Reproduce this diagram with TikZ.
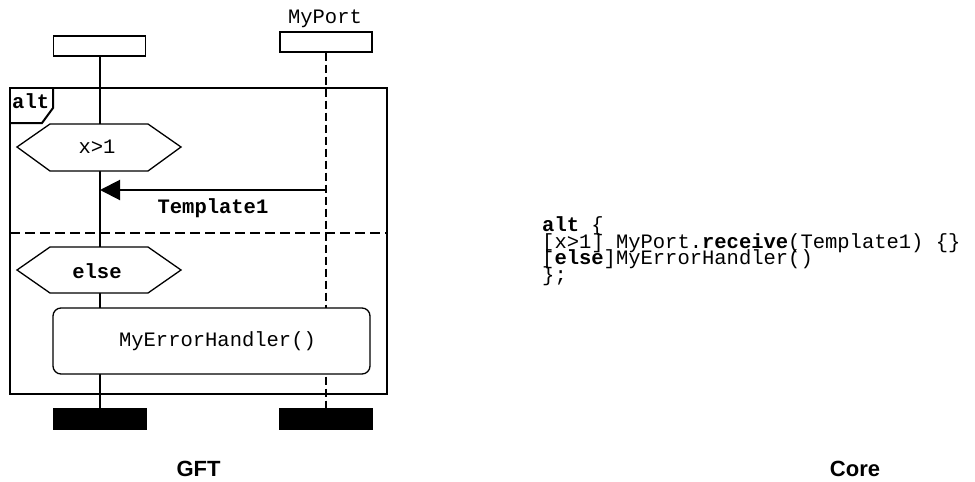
\documentclass[tikz,border=0pt]{standalone}
\usepackage{fontspec}
\setmainfont{Liberation Sans}
\newfontfamily\cour{Liberation Mono}
\usetikzlibrary{arrows.meta}
\newcommand\monosize{\fontsize{20.5}{24}\selectfont}
\tikzset{
  mono/.style={font=\cour\monosize, inner sep=0pt},
  monob/.style={font=\cour\bfseries\monosize, inner sep=0pt},
  headbox/.style={draw, line width=1.3pt, minimum width=92pt, minimum height=20pt, inner sep=0pt},
  endbox/.style={draw, fill=black, minimum width=93pt, minimum height=21pt, inner sep=0pt},
  solidline/.style={line width=2pt},
  thinline/.style={line width=1.3pt},
  dashline/.style={line width=1.3pt, dash pattern=on 8pt off 4pt},
  sepline/.style={line width=2pt, dash pattern=on 10pt off 5pt},
  caption/.style={font=\bfseries\fontsize{22}{26}\selectfont, inner sep=0pt, anchor=base}
}
\begin{document}
\begin{tikzpicture}[x=1pt,y=-1pt]
\useasboundingbox (0,0) rectangle (975,482);
% instance heads and ends
\node[headbox] (lhead) at (99.5,46) {};
\node[headbox] (rhead) at (326,42) {};
\node[mono, anchor=base] (portname) at (325,23) {MyPort};
\node[endbox] (lend) at (99.5,418.5) {};
\node[endbox] (rend) at (326,418.5) {};
% lifelines
\draw[solidline] (lhead.south) -- (lend.north);
\draw[dashline] (rhead.south) -- (rend.north);
% alt frame
\draw[solidline] (10,88) rectangle (387,394);
\draw[solidline] (10,123) -- (42,123) -- (53,108) -- (53,88);
\node[monob, anchor=base west] (altlab) at (12,108) {alt};
% first condition
\draw[thinline, fill=white] (17,147) -- (50,124) -- (148,124) -- (181,147) -- (148,171) -- (50,171) -- cycle;
\node[mono] (cond1) at (97,147) {x>1};
% message
\coordinate (msgfrom) at (326,190);
\coordinate (msgto) at (100,190);
\draw[solidline, -{Triangle[length=20pt,width=20pt]}] (msgfrom) -- (msgto);
\node[monob, anchor=base] (msglab) at (213,213) {Template1};
% separator
\draw[sepline] (10,233) -- (387,233);
% else condition
\draw[thinline, fill=white] (17,270) -- (50,247) -- (148,247) -- (181,270) -- (148,293) -- (50,293) -- cycle;
\node[monob] (cond2) at (97,271) {else};
% reference box
\node[draw, thinline, rounded corners=8pt, fill=white, minimum width=317pt, minimum height=66pt, mono] (handler) at (211.5,341) {\hspace{12pt}MyErrorHandler()};
% core code
\node[mono, anchor=base west] (c1) at (542,231.7) {\textbf{alt} \{};
\node[mono, anchor=base west] (c2) at (542,248) {[x>1] MyPort.\textbf{receive}(Template1) \{\}};
\node[mono, anchor=base west] (c3) at (542,264.5) {[\textbf{else}]MyErrorHandler()};
\node[mono, anchor=base west] (c4) at (542,281) {\};};
% captions
\node[caption] (gft) at (198.5,476) {GFT};
\node[caption] (core) at (855,476) {Core};
\end{tikzpicture}
\end{document}
